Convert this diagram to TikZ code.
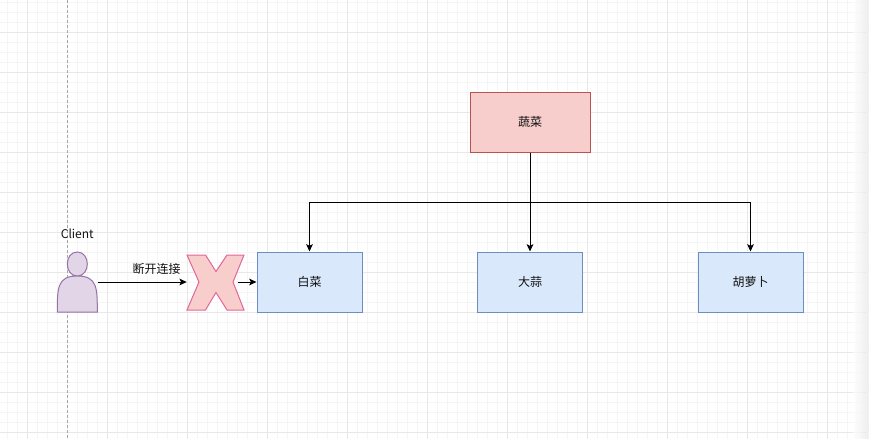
\documentclass[tikz,border=0pt]{standalone}
\usepackage{fontspec}
\setmainfont{Noto Sans CJK SC}
\usetikzlibrary{arrows.meta}
\definecolor{redfill}{HTML}{F8CECC}
\definecolor{redline}{HTML}{B85450}
\definecolor{bluefill}{HTML}{DAE8FC}
\definecolor{blueline}{HTML}{6C8EBF}
\definecolor{purfill}{HTML}{E1D5E7}
\definecolor{purline}{HTML}{9673A6}
\definecolor{pinkline}{HTML}{E0689A}
\definecolor{gridminor}{HTML}{F5F5F5}
\definecolor{gridmajor}{HTML}{E8E8E8}
\definecolor{txt}{HTML}{111111}
\tikzset{
  px/.style={x=0.75pt,y=-0.75pt},
  box/.style={draw, line width=0.75pt, minimum height=45pt, inner sep=0pt, font=\fontsize{9pt}{11pt}\selectfont, text=txt},
  vegbox/.style={box, fill=redfill, draw=redline, minimum width=90pt},
  itembox/.style={box, fill=bluefill, draw=blueline, minimum width=78.75pt},
  ghost/.style={inner sep=0pt, minimum width=30pt, minimum height=45pt},
  arr/.style={line width=0.75pt, -{Stealth[length=5.5pt,width=5pt,inset=1.3pt]}},
  lbl/.style={inner sep=0pt, font=\fontsize{9pt}{11pt}\selectfont, text=txt},
}
\begin{document}
\begin{tikzpicture}[px]
\useasboundingbox (0,0) rectangle (869,439);
\fill[white] (0,0) rectangle (869,439);
% minor grid
\foreach \x in {7,17,...,867} \draw[gridminor, line width=0.75pt] (\x,0) -- (\x,439);
\foreach \y in {2,12,...,439} \draw[gridminor, line width=0.75pt] (0,\y) -- (869,\y);
% major grid
\foreach \x in {27,107,...,867} \draw[gridmajor, line width=0.75pt] (\x,0) -- (\x,439);
\foreach \y in {32,72,...,439} \draw[gridmajor, line width=0.75pt] (0,\y) -- (869,\y);
% right edge shadow
\shade[left color=white, right color=black!8, opacity=0.7] (853,0) rectangle (866,439);
\fill[black!6] (866,0) rectangle (869,439);
% dashed page line
\draw[black!35, line width=0.75pt, dash pattern=on 2.25pt off 1.5pt] (67.3,0) -- (67.3,439);

% boxes
\node[vegbox] (veg) at (530,122) {蔬菜};
\node[itembox] (bai) at (309.5,282) {白菜};
\node[itembox] (da) at (530,282) {大蒜};
\node[itembox] (hu) at (750.5,282) {胡萝卜};

\coordinate (split) at (530,202);
\draw[arr] (veg.south) -- (split) -| (bai.north);
\draw[arr] (split) -| (hu.north);
\draw[arr] (veg.south) -- (da.north);

% actor
\node[ghost] (client) at (77.3,282) {};
\node[lbl, anchor=south] (clientlbl) at (77.3,239) {Client};
\begin{scope}[shift={(57.3,252)}]
\draw[fill=purfill, draw=purline, line width=0.75pt]
  (0,60) .. controls (0,36) and (0,24) .. (20,24)
  .. controls (6.67,24) and (6.67,0) .. (20,0)
  .. controls (33.33,0) and (33.33,24) .. (20,24)
  .. controls (40,24) and (40,36) .. (40,60) -- cycle;
\end{scope}

% cross
\node[inner sep=0pt, minimum width=42.75pt, minimum height=42pt] (xmark) at (215.5,282) {};
\draw[fill=redfill, draw=pinkline, line width=0.75pt, line join=miter]
  (187,255) -- (205.5,255) -- (216,271.5) -- (227,255) -- (244,255) -- (233,282)
  -- (244,310) -- (227,310) -- (216,292.5) -- (205.5,310) -- (187,310) -- (199,282) -- cycle;
\coordinate (xout) at (238,282);

\draw[arr] (client.east |- bai.west) -- (xmark.west);
\node[lbl] (cut) at (156.5,269) {断开连接};
\draw[arr] (xout) -- (bai.west);
\end{tikzpicture}
\end{document}
